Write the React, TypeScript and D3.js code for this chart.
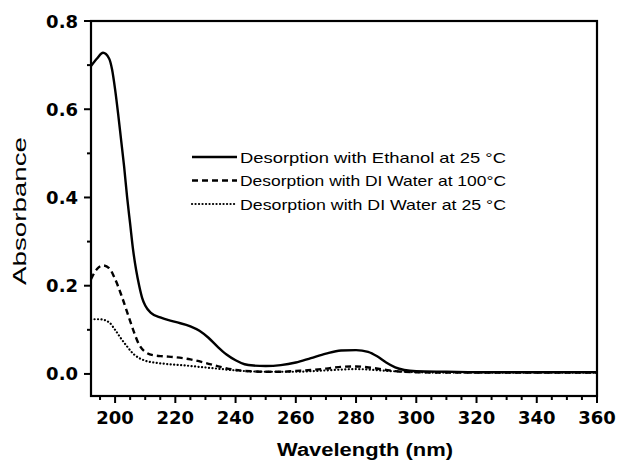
import React from "react";
import { scaleLinear, line, curveMonotoneX, range } from "d3";

const wavelengths = {
  ethanol: [192, 194, 196, 198, 199, 200, 201, 202, 203, 204, 205, 206, 207, 208, 209, 210, 212, 215, 220, 225, 228, 231, 234, 237, 240, 243, 246, 250, 255, 260, 265, 270, 275, 280, 284, 287, 290, 293, 296, 300, 310, 320, 330, 340, 350, 360],
  water100: [192, 194, 196, 198, 200, 202, 204, 206, 208, 210, 213, 216, 220, 225, 230, 235, 240, 245, 250, 255, 260, 265, 270, 275, 280, 285, 290, 295, 300, 310, 320, 330, 340, 350, 360],
  water25: [192, 195, 198, 200, 202, 204, 206, 208, 210, 214, 218, 222, 228, 234, 240, 250, 260, 270, 280, 290, 300, 310, 320, 330, 340, 350, 360],
};

const ethanolAbs = [0.698, 0.715, 0.728, 0.715, 0.69, 0.645, 0.59, 0.53, 0.47, 0.4, 0.34, 0.28, 0.235, 0.2, 0.172, 0.155, 0.138, 0.128, 0.118, 0.108, 0.098, 0.082, 0.062, 0.044, 0.031, 0.022, 0.019, 0.018, 0.02, 0.026, 0.036, 0.046, 0.053, 0.054, 0.05, 0.04, 0.026, 0.015, 0.009, 0.006, 0.005, 0.004, 0.004, 0.004, 0.004, 0.004];
const water100Abs = [0.215, 0.238, 0.246, 0.24, 0.215, 0.18, 0.14, 0.1, 0.066, 0.05, 0.042, 0.04, 0.038, 0.033, 0.025, 0.016, 0.009, 0.006, 0.005, 0.005, 0.007, 0.009, 0.012, 0.016, 0.017, 0.014, 0.009, 0.005, 0.004, 0.003, 0.003, 0.003, 0.003, 0.003, 0.003];
const water25Abs = [0.124, 0.124, 0.117, 0.1, 0.08, 0.062, 0.046, 0.036, 0.03, 0.025, 0.022, 0.02, 0.016, 0.012, 0.008, 0.005, 0.005, 0.008, 0.011, 0.007, 0.004, 0.003, 0.003, 0.003, 0.003, 0.003, 0.003];

const xTicks = [200, 220, 240, 260, 280, 300, 320, 340, 360];
const yTicks = [0.0, 0.2, 0.4, 0.6, 0.8];
const legendLabels = [
  "Desorption with Ethanol at 25 \u00B0C",
  "Desorption with DI Water at 100\u00B0C",
  "Desorption with DI Water at 25 \u00B0C",
];

const W = 619;
const H = 461;
const left = 91, right = 597, top = 21, bottom = 396;

function App() {
  const x = scaleLinear().domain([192, 360]).range([left, right]);
  const y = scaleLinear().domain([-0.05, 0.8]).range([bottom, top]);

  const series = [
    { xs: wavelengths.ethanol, ys: ethanolAbs, dash: "none", width: 2.4, cap: "butt" },
    { xs: wavelengths.water100, ys: water100Abs, dash: "6,4", width: 2.4, cap: "butt" },
    { xs: wavelengths.water25, ys: water25Abs, dash: "0.1,3.4", width: 2.2, cap: "round" },
  ];

  const path = line<[number, number]>()
    .x(d => x(d[0]))
    .y(d => y(d[1]))
    .curve(curveMonotoneX);

  const xMinor = range(195, 361, 5).filter(v => v % 20 !== 0);
  const yMinor = [0.1, 0.3, 0.5, 0.7];
  const tickFont = "'DejaVu Sans', sans-serif";
  const textFont = "'Liberation Sans', Arial, sans-serif";

  return (
    <svg width={W} height={H} style={{ position: "absolute", left: 0, top: 0 }}>
      <rect width={W} height={H} fill="#fff" />

      {series.map((s, i) => (
        <path
          key={i}
          d={path(s.xs.map((v, j) => [v, s.ys[j]] as [number, number])) || ""}
          fill="none"
          stroke="#000"
          strokeWidth={s.width}
          strokeDasharray={s.dash}
          strokeLinecap={s.cap as any}
        />
      ))}

      {/* frame */}
      <rect x={left} y={top} width={right - left} height={bottom - top} fill="none" stroke="#000" strokeWidth={2.2} />

      {/* x ticks */}
      {xTicks.map(t => (
        <g key={t}>
          <line x1={x(t)} x2={x(t)} y1={bottom} y2={bottom + 7} stroke="#000" strokeWidth={2} />
          <text x={x(t)} y={bottom + 28} textAnchor="middle" fontFamily={tickFont} fontWeight="bold" fontSize={18}>{t}</text>
        </g>
      ))}
      {xMinor.map(t => (
        <line key={t} x1={x(t)} x2={x(t)} y1={bottom} y2={bottom + 4} stroke="#000" strokeWidth={2} />
      ))}

      {/* y ticks */}
      {yTicks.map(t => (
        <g key={t}>
          <line x1={left - 7} x2={left} y1={y(t)} y2={y(t)} stroke="#000" strokeWidth={2} />
          <text x={left - 13} y={y(t) + 6.5} textAnchor="end" fontFamily={tickFont} fontWeight="bold" fontSize={18}>{t.toFixed(1)}</text>
        </g>
      ))}
      {yMinor.map(t => (
        <line key={t} x1={left - 4} x2={left} y1={y(t)} y2={y(t)} stroke="#000" strokeWidth={2} />
      ))}

      {/* axis titles */}
      <text
        transform="translate(26,211) rotate(-90)"
        textAnchor="middle"
        fontFamily={textFont}
        fontSize={18}
        textLength={148}
        lengthAdjust="spacingAndGlyphs"
      >Absorbance</text>
      <text
        x={365}
        y={456}
        textAnchor="middle"
        fontFamily={textFont}
        fontWeight="bold"
        fontSize={18}
        textLength={176}
        lengthAdjust="spacingAndGlyphs"
      >Wavelength (nm)</text>

      {/* legend */}
      {legendLabels.map((label, i) => {
        const ly = 157 + i * 23.5;
        const s = series[i];
        return (
          <g key={label}>
            <line x1={192} x2={237} y1={ly} y2={ly} stroke="#000" strokeWidth={s.width} strokeDasharray={s.dash} strokeLinecap={s.cap as any} />
            <text x={240} y={ly + 5.5} fontFamily={textFont} fontSize={15} textLength={266} lengthAdjust="spacingAndGlyphs">{label}</text>
          </g>
        );
      })}
    </svg>
  );
}

export default App;
